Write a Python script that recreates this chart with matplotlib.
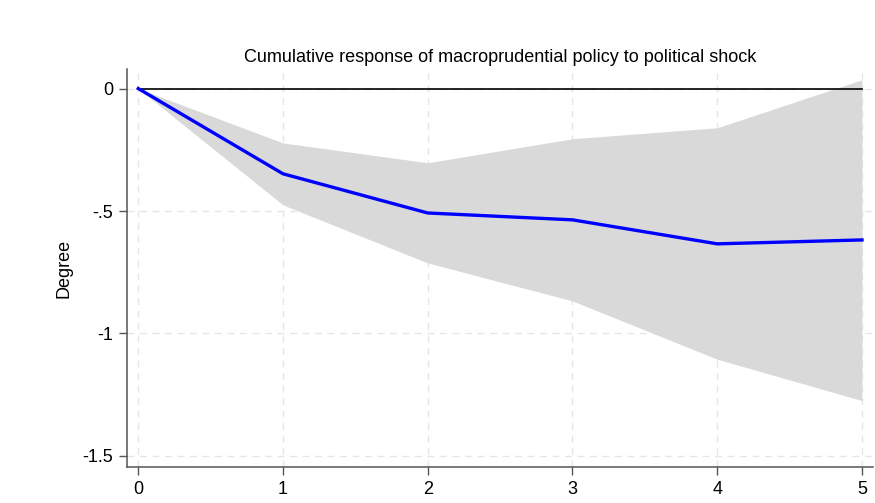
import matplotlib
matplotlib.use("Agg")
from matplotlib import pyplot as plt

# Horizon (years after the shock).
horizon = [0, 1, 2, 3, 4, 5]
# Cumulative impulse response and its confidence band.
response = [0.0, -0.348, -0.508, -0.536, -0.634, -0.618]
upper = [0.0, -0.222, -0.303, -0.205, -0.160, 0.036]
lower = [0.0, -0.475, -0.712, -0.867, -1.105, -1.274]

y_ticks = [0, -0.5, -1, -1.5]
y_tick_labels = ["0", "-.5", "-1", "-1.5"]

plt.rcParams["font.family"] = ["Liberation Sans", "DejaVu Sans"]

fig = plt.figure(figsize=(8.75, 5.03), dpi=100)
ax = fig.add_axes([0.1451, 0.0716, 0.8526, 0.7913])

# Confidence band and point estimate.
ax.fill_between(horizon, lower, upper, color="#d9d9d9", linewidth=0, zorder=2)
ax.plot([horizon[0], horizon[-1]], [0, 0], color="black", linewidth=1.2, zorder=3)
ax.plot(horizon, response, color="#0000ff", linewidth=2.4, zorder=4)

ax.set_xlim(-0.078, 5.076)
ax.set_ylim(-1.545, 0.08)
ax.set_xticks(horizon)
ax.set_yticks(y_ticks)
ax.set_yticklabels(y_tick_labels)

# Light dashed grid like the Stata scheme.
ax.grid(True, color="#e6e6e6", linestyle=(0, (5, 4)), linewidth=1.0, zorder=1)
ax.set_axisbelow(True)

for side in ["top", "right"]:
    ax.spines[side].set_visible(False)
for side in ["left", "bottom"]:
    ax.spines[side].set_color("#555555")
    ax.spines[side].set_linewidth(1.1)
ax.tick_params(axis="both", direction="out", length=6, width=1.0, color="#555555",
               labelsize=13, pad=4)

ax.set_ylabel("Degree", fontsize=13, labelpad=7)
ax.set_title("Cumulative response of macroprudential policy to political shock",
             fontsize=13, pad=5)

fig.savefig("out.png", dpi=100)
